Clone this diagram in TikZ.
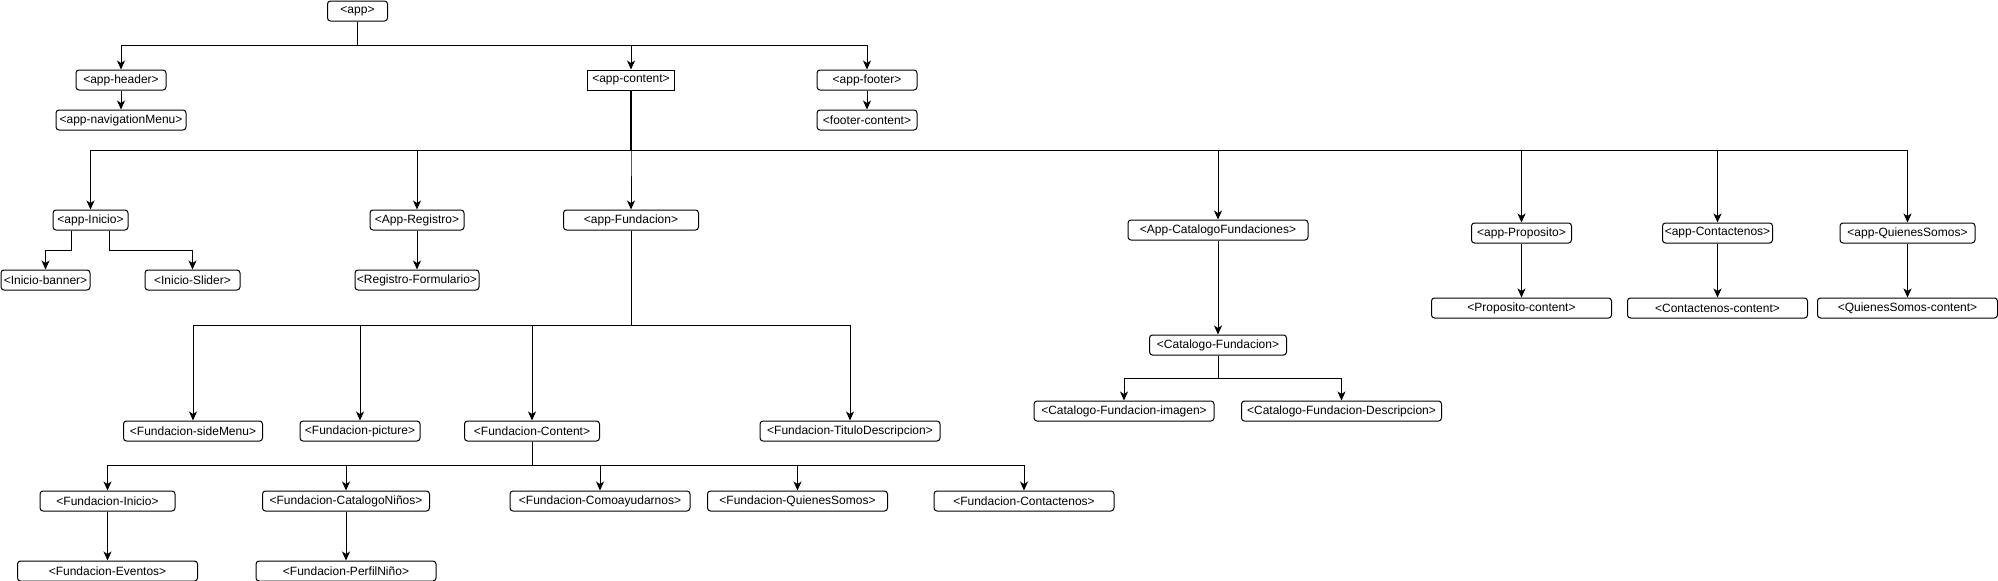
\documentclass[tikz,border=0pt]{standalone}
\usepackage{fontspec}
\setmainfont{Liberation Sans}
\usetikzlibrary{arrows.meta, positioning}

\begin{document}
\begin{tikzpicture}[x=1pt, y=-1pt, line width=1pt,
		comp/.style={draw, rounded corners=3pt, align=center, inner sep=0pt, minimum height=20pt, font=\fontsize{12}{14}\selectfont},
		link/.style={-{Stealth[length=9pt, width=8pt, inset=2.5pt]}},
	]
			\useasboundingbox (0, 0) rectangle (1998, 581);

			% top level
			\node[comp, minimum width=60pt]  at (357.5, 11) (app)     {<app>};
			\node[comp, minimum width=90pt]  at (121, 80)   (header)  {<app-header>};
			\node[comp, minimum width=87pt, rounded corners=0pt] at (631, 80) (content) {<app-content>};
			\node[comp, minimum width=100pt] at (867, 80)   (footer)  {<app-footer>};
			\node[comp, minimum width=130pt] at (121, 120)  (navmenu) {<app-navigationMenu>};
			\node[comp, minimum width=100pt] at (867, 120)  (footerc) {<footer-content>};

			% app-content children
			\node[comp, minimum width=75pt]  at (90.5, 220)   (inicio)      {<app-Inicio>};
			\node[comp, minimum width=94pt]  at (417, 220)    (registro)    {<App-Registro>};
			\node[comp, minimum width=135pt] at (631, 220)    (fundacion)   {<app-Fundacion>};
			\node[comp, minimum width=180pt] at (1218, 230)   (catalogos)   {<App-CatalogoFundaciones>};
			\node[comp, minimum width=100pt] at (1521.5, 233) (proposito)   {<app-Proposito>};
			\node[comp, minimum width=110pt] at (1717.5, 233) (contactenos) {<app-Contactenos>};
			\node[comp, minimum width=135pt] at (1907.5, 233) (quienes)     {<app-QuienesSomos>};

			\node[comp, minimum width=89pt]  at (45.5, 280)   (banner)       {<Inicio-banner>};
			\node[comp, minimum width=95pt]  at (192.5, 280)  (slider)       {<Inicio-Slider>};
			\node[comp, minimum width=124pt] at (417, 280)    (formulario)   {<Registro-Formulario>};
			\node[comp, minimum width=180pt] at (1521.5, 308) (propositoc)   {<Proposito-content>};
			\node[comp, minimum width=180pt] at (1717.5, 308) (contactenosc) {<Contactenos-content>};
			\node[comp, minimum width=180pt] at (1907.5, 308) (quienesc)     {<QuienesSomos-content>};

			% catalogo
			\node[comp, minimum width=137pt] at (1218, 345)   (catfund)   {<Catalogo-Fundacion>};
			\node[comp, minimum width=180pt] at (1124, 411)   (catimagen) {<Catalogo-Fundacion-imagen>};
			\node[comp, minimum width=200pt] at (1341.5, 411) (catdesc)   {<Catalogo-Fundacion-Descripcion>};

			% fundacion
			\node[comp, minimum width=139pt] at (193, 431)    (sidemenu) {<Fundacion-sideMenu>};
			\node[comp, minimum width=120pt] at (360, 431)    (picture)  {<Fundacion-picture>};
			\node[comp, minimum width=135pt] at (532, 431)    (fcontent) {<Fundacion-Content>};
			\node[comp, minimum width=180pt] at (850, 431)    (titulo)   {<Fundacion-TituloDescripcion>};

			\node[comp, minimum width=135pt] at (107.5, 501)  (finicio)      {<Fundacion-Inicio>};
			\node[comp, minimum width=167pt] at (346, 501)    (fcatalogo)    {<Fundacion-CatalogoNiños>};
			\node[comp, minimum width=180pt] at (600, 501)    (fcomo)        {<Fundacion-Comoayudarnos>};
			\node[comp, minimum width=180pt] at (797.5, 501)  (fquienes)     {<Fundacion-QuienesSomos>};
			\node[comp, minimum width=180pt] at (1024, 501)   (fcontactenos) {<Fundacion-Contactenos>};
			\node[comp, minimum width=180pt] at (107.5, 571)  (eventos)      {<Fundacion-Eventos>};
			\node[comp, minimum width=180pt] at (346, 571)    (perfil)       {<Fundacion-PerfilNiño>};

			% buses
			\foreach \c in {header, content, footer}
				\draw[link] (app.south) -- ++(0, 24) -| (\c.north);
			\foreach \c in {inicio, registro, fundacion, catalogos, proposito, contactenos, quienes}
				\draw[link] (content.south) -- ++(0, 60) -| (\c.north);
			\draw[line width=2pt] (content.south) -- ++(0, 60);
			\foreach \c in {sidemenu, picture, fcontent, titulo}
				\draw[link] (fundacion.south) -- ++(0, 95) -| (\c.north);
			\foreach \c in {finicio, fcatalogo, fcomo, fquienes, fcontactenos}
				\draw[link] (fcontent.south) -- ++(0, 24) -| (\c.north);
			\foreach \c in {catimagen, catdesc}
				\draw[link] (catfund.south) -- ++(0, 23) -| (\c.north);
			\draw[link] ([xshift=-19pt]inicio.south) -- ++(0, 20) -| (banner.north);
			\draw[link] ([xshift=18.5pt]inicio.south) -- ++(0, 20) -| (slider.north);

			% straight
			\path[link]
					(header)      edge (navmenu)
					(footer)      edge (footerc)
					(registro)    edge (formulario)
					(catalogos)   edge (catfund)
					(proposito)   edge (propositoc)
					(contactenos) edge (contactenosc)
					(quienes)     edge (quienesc)
					(finicio)     edge (eventos)
					(fcatalogo)   edge (perfil)
					;
\end{tikzpicture}
\end{document}
